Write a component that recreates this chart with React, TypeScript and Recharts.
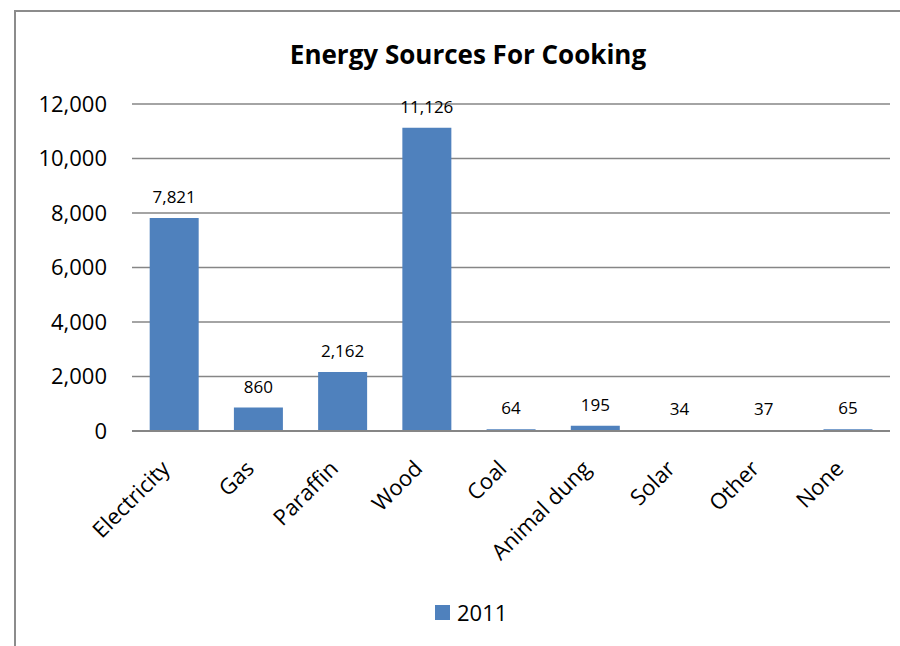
import { BarChart, Bar, XAxis, YAxis, CartesianGrid, LabelList } from 'recharts';

const sources = ['Electricity', 'Gas', 'Paraffin', 'Wood', 'Coal', 'Animal dung', 'Solar', 'Other', 'None'];
const households2011 = [7821, 860, 2162, 11126, 64, 195, 34, 37, 65];
const yTicks = [0, 2000, 4000, 6000, 8000, 10000, 12000];

const data = sources.map((source, i) => ({ source, value: households2011[i] }));

const FONT = '"Open Sans", Lato, sans-serif';
const BAR = '#4F81BD';
const fmt = (v: number) => v.toLocaleString('en-US');

// slanted category labels, right end pinned under the tick
function SlantTick(props: any) {
  const { x, y, payload } = props;
  return (
    <g transform={`translate(${x - 3},${y + 31})`}>
      <text transform="rotate(-45)" textAnchor="end" fontSize={22} fontFamily={FONT} fill="#000">
        {payload.value}
      </text>
    </g>
  );
}

export default function App() {
  return (
    <div style={{ position: 'absolute', left: 0, top: 0, width: 900, height: 646, background: '#fff' }}>
      {/* page frame */}
      <div style={{ position: 'absolute', left: 14, top: 10, width: 886, height: 636, borderLeft: '2px solid #8c8c8c', borderTop: '2px solid #8c8c8c' }} />
      <div style={{ position: 'absolute', left: 0, top: 36, width: 936, textAlign: 'center', fontFamily: FONT, fontWeight: 700, fontSize: 26, color: '#000' }}>
        Energy Sources For Cooking
      </div>
      <BarChart width={900} height={646} data={data} margin={{ top: 104, right: 10, bottom: 0, left: 0 }} barCategoryGap="21%">
        <CartesianGrid vertical={false} stroke="#868686" strokeWidth={1.5} />
        <XAxis
          dataKey="source"
          interval={0}
          tickLine={false}
          axisLine={{ stroke: '#868686', strokeWidth: 2 }}
          tick={<SlantTick />}
          height={215}
        />
        <YAxis
          width={132}
          domain={[0, 12000]}
          ticks={yTicks}
          tickFormatter={fmt}
          axisLine={false}
          tickLine={false}
          tickSize={0}
          tickMargin={25}
          tick={{ fontSize: 22, fontFamily: FONT, fill: '#000' }}
        />
        <Bar dataKey="value" name="2011" fill={BAR} isAnimationActive={false}>
          <LabelList dataKey="value" position="top" offset={15} formatter={(v: any) => fmt(Number(v))} style={{ fontSize: 17, fontFamily: FONT, fill: '#000' }} />
        </Bar>
      </BarChart>
      {/* series key */}
      <div style={{ position: 'absolute', left: 435, top: 597, display: 'flex', alignItems: 'center', fontFamily: FONT, fontSize: 22, color: '#000' }}>
        <span style={{ width: 15, height: 15, background: BAR, display: 'inline-block', marginRight: 7 }} />
        2011
      </div>
    </div>
  );
}
